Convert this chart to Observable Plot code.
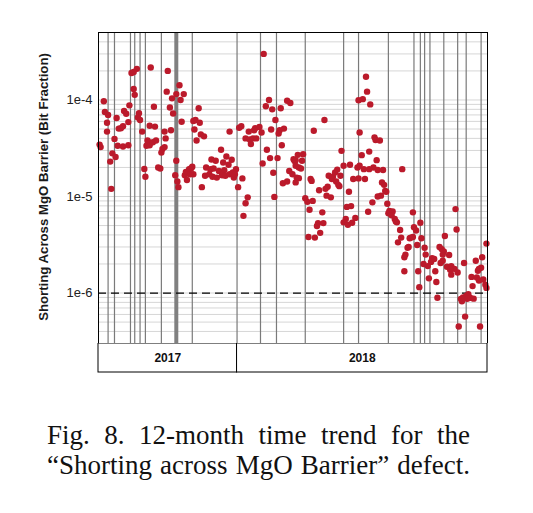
<!DOCTYPE html>
<html>
<head>
<meta charset="utf-8">
<script src="https://cdn.jsdelivr.net/npm/d3@7"></script>
<script src="https://cdn.jsdelivr.net/npm/@observablehq/plot@0.6"></script>
<style>
  body { margin: 0; background: #fff; }
  #chart { width: 533px; }
  #chart svg { display: block; }
  .caption {
    font-family: "Liberation Serif", "Times New Roman", serif;
    font-size: 27px;
    line-height: 30px;
    color: #111;
    margin: 47px 0 0 47px;
    width: 423px;
    text-align: justify;
    text-align-last: justify;
    white-space: nowrap;
  }
</style>
</head>
<body>
<div id="chart"></div>
<div class="caption">Fig. 8. 12-month time trend for the<br>“Shorting across MgO Barrier” defect.</div>
<script>
// 12 months of daily samples, counted in days from the first day on the chart
const startDate = Date.UTC(2017, 7, 24)
const spanDays = 365
const yearLabels = ['2017', '2018']
const yearStartDays = [0, 130]
// process events (vertical lines); stopDay is drawn heavier
const eventDays = [9, 15, 30, 34, 39, 44, 59, 88, 130, 152, 167, 194, 230, 244, 272, 296, 302, 306, 311, 324, 337, 345, 359]
const stopDay = 73
const yTicks = [1e-4, 1e-5, 1e-6]
const specLimit = 1e-6
const yTitle = 'Shorting Across MgO Barrier (Bit Fraction)'

const sampleDay = [
  1, 2, 5, 6, 9, 8, 8, 15, 13, 16,
  11, 12, 17, 19, 21, 23, 18, 23, 28, 24,
  26, 28, 29, 31, 33, 36, 33, 34, 38, 37,
  39, 41, 43, 44, 49, 52, 48, 53, 46, 47,
  45, 48, 51, 54, 56, 58, 59, 60, 62, 63,
  62, 68, 65, 64, 67, 69, 70, 76, 73, 80,
  77, 78, 73, 72, 74, 75, 81, 83, 85, 87,
  89, 92, 94, 91, 95, 90, 96, 99, 88, 89,
  97, 82, 86,
  115, 106, 110, 120, 125, 117, 122, 101, 105, 108,
  113, 118, 100, 104, 107, 111, 116, 119, 123, 126,
  129, 127, 128, 131, 135, 123, 132, 134, 138, 142,
  145, 148, 143, 141, 146, 147, 151, 153, 140, 138,
  136, 155, 160, 157, 163, 166, 162, 170, 174, 169,
  172, 158, 161, 168, 154, 164, 173, 165, 171, 177,
  180, 179, 182, 183, 177, 184, 186, 188, 187, 192,
  185, 191, 185, 190, 188, 185, 194, 196, 201, 198,
  199, 200, 202, 212, 207, 213, 215, 214, 218, 210,
  206, 211, 205, 208, 203, 197, 216, 220, 222, 224,
  219, 223, 225, 227, 226, 228, 230, 236, 235, 233,
  237, 232, 230, 234, 238, 241, 239, 244, 243, 245,
  247, 244, 248, 251, 252, 255, 249, 250, 254, 259,
  260, 264, 261, 258, 262, 257, 253, 266, 268, 269,
  265, 271, 272, 270, 273, 274, 276, 275, 278, 280,
  279, 283, 281, 284, 287, 288, 290, 291, 292, 293,
  295, 287, 295, 296, 298, 302, 299, 300, 301, 303,
  306, 307, 305, 309, 313, 315, 312, 310, 316, 317,
  318, 325, 320, 322, 324, 323, 329, 321, 323, 327,
  331, 332, 334, 330, 331, 337, 335, 336, 343, 340,
  342, 345, 347, 341, 346, 349, 352, 344, 338, 358,
  354, 357, 359, 360, 356, 350, 355, 357, 361, 351,
  363, 364, 364, 285, 262, 245, 254, 267
]
const shortingFraction = [
  3.45e-5, 3.25e-5, 9.7e-5, 7.5e-5, 7.0e-5, 5.8e-5, 4.7e-5, 3.95e-5, 2.8e-5, 2.57e-5,
  2.3e-5, 1.2e-5, 6.5e-5, 5.05e-5, 5.1e-5, 5.35e-5, 3.35e-5, 3.3e-5, 3.4e-5, 7.7e-5,
  7.2e-5, 5.9e-5, 8.8e-5, 1.9e-4, 1.95e-4, 2.1e-4, 1.3e-4, 1.13e-4, 7.3e-5, 6.6e-5,
  6.2e-5, 4.7e-5, 1.93e-5, 1.6e-5, 2.17e-4, 8.5e-5, 5.4e-5, 5.3e-5, 3.8e-5, 3.65e-5,
  3.35e-5, 3.4e-5, 3.65e-5, 3.8e-5, 2.0e-5, 1.95e-5, 2.85e-5, 3.1e-5, 3.25e-5, 4.0e-5,
  4.7e-5, 4.85e-5, 2.0e-4, 1.22e-4, 8.35e-5, 1.04e-4, 7.25e-5, 1.42e-4, 1.15e-4, 1.15e-4,
  1.0e-4, 5.95e-5, 2.35e-5, 1.66e-5, 1.43e-5, 1.25e-5, 1.66e-5, 1.48e-5, 1.92e-5, 1.96e-5,
  6.05e-5, 3.8e-5, 8.2e-5, 6.2e-5, 5.8e-5, 4.95e-5, 4.4e-5, 4.2e-5, 2.03e-5, 1.7e-5,
  1.25e-5, 1.8e-5, 1.7e-5,
  3.05e-5, 2.42e-5, 2.35e-5, 2.6e-5, 2.4e-5, 2.25e-5, 2.13e-5, 2.0e-5, 1.92e-5, 1.95e-5,
  1.84e-5, 1.87e-5, 1.64e-5, 1.7e-5, 1.6e-5, 1.57e-5, 1.66e-5, 1.64e-5, 1.7e-5, 1.77e-5,
  1.92e-5, 1.57e-5, 1.7e-5, 1.25e-5, 1.54e-5, 4.7e-5, 5.15e-5, 5.35e-5, 4.0e-5, 3.9e-5,
  4.0e-5, 4.0e-5, 3.5e-5, 4.7e-5, 4.85e-5, 5.1e-5, 5.25e-5, 4.6e-5, 9.8e-6, 8.5e-6,
  6.3e-6, 3.0e-4, 1.0e-4, 8.6e-5, 8.0e-5, 6.2e-5, 4.95e-5, 4.85e-5, 5.05e-5, 4.5e-5,
  3.4e-5, 3.05e-5, 2.5e-5, 2.5e-5, 2.2e-5, 1.76e-5, 1.37e-5, 9.9e-6, 8.2e-5, 9.8e-5,
  9.3e-5, 1.84e-5, 1.7e-5, 2.43e-5, 1.43e-5, 2.33e-5, 1.57e-5, 2.0e-5, 2.7e-5, 2.74e-5,
  2.38e-5, 2.35e-5, 2.08e-5, 1.95e-5, 1.55e-5, 1.4e-5, 9.6e-6, 8.8e-6, 9.0e-6, 7.3e-6,
  1.52e-5, 1.45e-5, 4.8e-5, 6.2e-5, 1.16e-5, 1.2e-5, 1.26e-5, 1.02e-5, 9.8e-6, 6.85e-6,
  5.3e-6, 5.3e-6, 4.95e-6, 4.2e-6, 3.75e-6, 3.8e-6, 1.64e-5, 1.6e-5, 1.77e-5, 1.9e-5,
  1.52e-5, 1.43e-5, 1.32e-5, 1.64e-5, 1.28e-5, 2.97e-5, 2.08e-5, 2.13e-5, 1.12e-5, 7.8e-6,
  7.95e-6, 5.85e-6, 5.4e-6, 5.1e-6, 5.35e-6, 6.0e-6, 1.52e-5, 1.54e-5, 2.0e-5, 4.6e-5,
  2.68e-5, 9.95e-5, 1.02e-4, 1.74e-4, 1.22e-4, 9.0e-5, 1.92e-5, 1.52e-5, 2.92e-5, 4.1e-5,
  3.85e-5, 3.8e-5, 2.38e-5, 2.0e-5, 1.88e-5, 8.7e-6, 6.95e-6, 1.4e-5, 1.32e-5, 1.14e-5,
  1.02e-5, 8.4e-6, 6.7e-6, 1.12e-5, 7.1e-6, 6.8e-6, 7.0e-6, 6.4e-6, 5.85e-6, 5.4e-6,
  5.5e-6, 4.5e-6, 3.35e-6, 3.75e-6, 2.35e-6, 2.5e-6, 2.95e-6, 3.0e-6, 3.7e-6, 3.75e-6,
  3.8e-6, 1.68e-6, 6.85e-6, 4.8e-6, 4.45e-6, 5.35e-6, 3.15e-6, 1.68e-6, 1.15e-6, 3.7e-6,
  2.95e-6, 2.5e-6, 2.0e-6, 1.9e-6, 2.3e-6, 2.25e-6, 2.1e-6, 1.42e-6, 1.68e-6, 1.3e-6,
  8.95e-7, 3.9e-6, 3.0e-6, 2.85e-6, 2.7e-6, 2.5e-6, 2.48e-6, 2.05e-6, 2.16e-6, 1.87e-6,
  1.9e-6, 1.8e-6, 1.78e-6, 1.74e-6, 1.55e-6, 1.63e-6, 7.4e-6, 4.55e-6, 2.05e-6, 8.7e-7,
  9.0e-7, 9.35e-7, 9.7e-7, 8.2e-7, 8.7e-7, 8.9e-7, 8.75e-7, 5.7e-7, 4.5e-7, 4.5e-7,
  2.16e-6, 1.78e-6, 1.83e-6, 2.35e-6, 1.7e-6, 1.47e-6, 1.45e-6, 1.35e-6, 1.38e-6, 1.18e-6,
  1.22e-6, 1.13e-6, 3.25e-6, 1.92e-5, 1.0e-5, 2.08e-5, 1.92e-5, 1.88e-5
]

const toDate = d => new Date(startDate + d * 864e5)
const samples = sampleDay.map((d, i) => ({ date: toDate(d), value: shortingFraction[i] }))
const xDomain = [toDate(0), toDate(spanDays)]
const yDomain = [3e-7, 5e-4]
// minor log gridlines (2..9 of each decade) straight from d3
const minorTicks = d3.scaleLog().domain(yDomain).ticks()

const font = 'Liberation Sans, Arial, sans-serif'

let chart = Plot.plot({
  width: 533,
  height: 343,
  marginTop: 32,
  marginBottom: 0,
  marginLeft: 98,
  marginRight: 46,
  style: { fontFamily: font, fontSize: '13px', color: '#222', background: 'white' },
  x: { type: 'utc', domain: xDomain, axis: null },
  y: {
    type: 'log', domain: yDomain, ticks: yTicks, tickSize: 0, tickPadding: 6,
    tickFormat: d => '1e-' + Math.round(-Math.log10(d)), label: null,
  },
  marks: [
    Plot.ruleY(minorTicks, { stroke: '#d6d6d6' }),
    Plot.ruleX(eventDays, { x: d => toDate(d), stroke: '#7a7a7a', strokeWidth: 1.2 }),
    Plot.ruleX([stopDay], { x: d => toDate(d), stroke: '#808080', strokeWidth: 4 }),
    Plot.ruleY([specLimit], { stroke: '#000', strokeWidth: 1.3, strokeDasharray: '8,5' }),
    Plot.dot(samples, { x: 'date', y: 'value', r: 3.2, fill: '#bb1a2b' }),
    Plot.frame({ stroke: '#000' }),
    Plot.text([yTitle], {
      text: d => d, frameAnchor: 'left', textAnchor: 'middle', dx: -55, dy: -1, rotate: -90,
      fontWeight: 'bold', fontSize: 13.2, fill: '#1a1a1a',
    }),
  ],
})

// year band under the plot, sharing the same time scale
const yearRows = yearLabels.map((label, i) => ({
  label,
  start: toDate(yearStartDays[i]),
  end: toDate(i + 1 < yearStartDays.length ? yearStartDays[i + 1] : spanDays),
}))

let band = Plot.plot({
  width: 533,
  height: 30,
  marginTop: 0,
  marginBottom: 1,
  marginLeft: 98,
  marginRight: 46,
  style: { fontFamily: font, background: 'white' },
  x: { type: 'utc', domain: xDomain, axis: null },
  y: { domain: [0, 1], axis: null },
  marks: [
    Plot.rect(yearRows, { x1: 'start', x2: 'end', y1: 0, y2: 1, fill: 'white', stroke: '#000' }),
    Plot.text(yearRows, {
      x: d => new Date((+d.start + +d.end) / 2), y: 0.5, text: 'label',
      fontWeight: 'bold', fontSize: 12, fill: '#111',
    }),
  ],
})

d3.select('#chart').append(() => chart)
d3.select('#chart').append(() => band)
</script>
</body>
</html>
